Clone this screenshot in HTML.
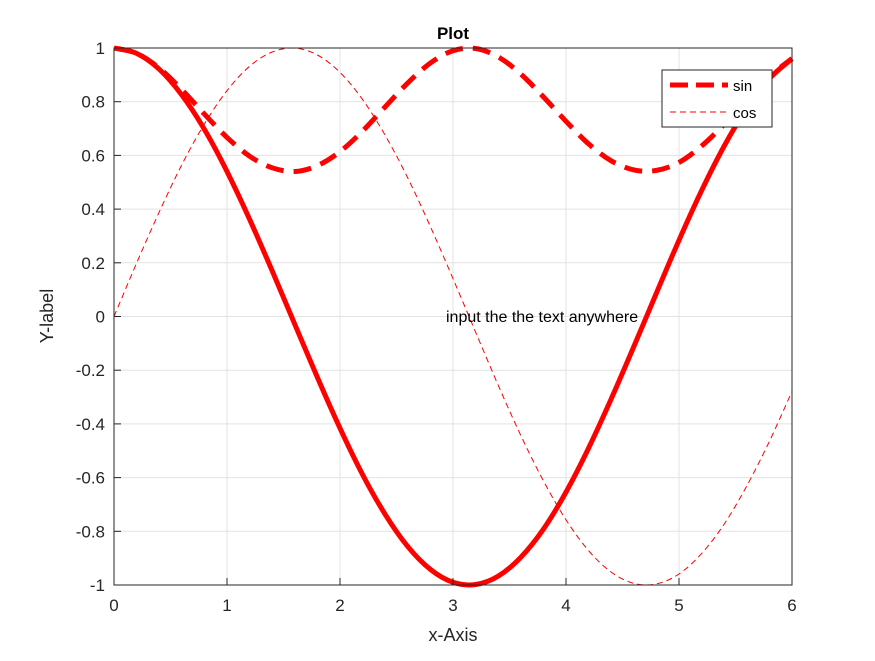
<!DOCTYPE html>
<html><head><meta charset="utf-8"><style>
body{margin:0;background:#fff;}
svg{font-family:"Liberation Sans",Arial,sans-serif;}
</style></head><body>
<svg id="chart" width="875" height="656" xmlns="http://www.w3.org/2000/svg">
<rect width="875" height="656" fill="#fff"/>
<g id="grid"></g>
<g id="series"></g>
<rect x="114" y="48" width="678" height="537" fill="none" stroke="#262626" stroke-width="1"/>
<g id="ticks"></g>
<text x="453" y="39" text-anchor="middle" font-size="17" font-weight="bold">Plot</text>
<text x="453" y="641" text-anchor="middle" font-size="18" fill="#262626">x-Axis</text>
<text transform="translate(53,316) rotate(-90)" text-anchor="middle" font-size="18" fill="#262626">Y-label</text>
<text x="446" y="322" font-size="16">input the the text anywhere</text>
<g>
<rect x="662" y="70" width="110" height="57" fill="#fff" stroke="#262626" stroke-width="1"/>
<line x1="670" y1="85" x2="728" y2="85" stroke="#f00" stroke-width="5" stroke-dasharray="18,8"/>
<text x="733" y="91" font-size="15">sin</text>
<line x1="670" y1="112" x2="728" y2="112" stroke="#f00" stroke-width="1" stroke-dasharray="6,4"/>
<text x="733" y="118" font-size="15">cos</text>
</g>
</svg>
<script>
const xValues=[0,0.2,0.4,0.6,0.8,1,1.2,1.4,1.6,1.8,2,2.2,2.4,2.6,2.8,3,3.2,3.4,3.6,3.8,4,4.2,4.4,4.6,4.8,5,5.2,5.4,5.6,5.8,6];
const sinValues=[0,.199,.389,.565,.717,.841,.932,.985,.9996,.974,.909,.808,.675,.516,.335,.141,-.058,-.256,-.443,-.612,-.757,-.872,-.952,-.994,-.996,-.959,-.883,-.773,-.631,-.465,-.279];
const cosValues=[1,.980,.921,.825,.697,.540,.362,.170,-.029,-.227,-.416,-.589,-.737,-.857,-.942,-.990,-.998,-.967,-.897,-.792,-.654,-.490,-.307,-.112,.087,.284,.469,.635,.776,.886,.960];
const cosSinValues=[1,.980,.925,.845,.754,.667,.597,.554,.540,.562,.614,.691,.781,.870,.944,.990,.998,.967,.903,.818,.727,.643,.580,.546,.544,.574,.635,.716,.807,.894,.961];
const xTicks=[0,1,2,3,4,5,6];
const yTicks=[-1,-0.8,-0.6,-0.4,-0.2,0,0.2,0.4,0.6,0.8,1];
const yTickLabels=["-1","-0.8","-0.6","-0.4","-0.2","0","0.2","0.4","0.6","0.8","1"];
const NS="http://www.w3.org/2000/svg";
const X=v=>114+v/6*678, Y=v=>316.5-v*268.5;
const grid=document.getElementById('grid'),ticks=document.getElementById('ticks'),ser=document.getElementById('series');
function mk(tag,attrs,parent){const e=document.createElementNS(NS,tag);for(const k in attrs)e.setAttribute(k,attrs[k]);parent.appendChild(e);return e;}
xTicks.forEach(t=>{
 const g=mk('line',{x1:X(t),x2:X(t),y1:48,y2:585,stroke:'#e3e3e3'},grid);
 
 
 const tm=mk('line',{x1:X(t),x2:X(t),y1:585,y2:578,stroke:'#262626'},ticks);
 
 
 const tl=mk('text',{x:X(t),y:611,'text-anchor':'middle','font-size':17,fill:'#262626'},ticks);
 tl.textContent=String(t);
 
 
});
yTicks.forEach((t,i)=>{
 const g=mk('line',{x1:114,x2:792,y1:Y(t),y2:Y(t),stroke:'#e3e3e3'},grid);
 
 
 const tm=mk('line',{x1:114,x2:121,y1:Y(t),y2:Y(t),stroke:'#262626'},ticks);
 
 
 const tl=mk('text',{x:105,y:Y(t)+6,'text-anchor':'end','font-size':17,fill:'#262626'},ticks);
 tl.textContent=yTickLabels[i];
 
 
});
function path(vals){
 const p=vals.map((v,i)=>[X(xValues[i]),Y(v)]);
 let d='M'+p[0][0].toFixed(1)+','+p[0][1].toFixed(1);
 for(let i=0;i<p.length-1;i++){
  const p0=p[Math.max(0,i-1)],p1=p[i],p2=p[i+1],p3=p[Math.min(p.length-1,i+2)];
  const c1=[p1[0]+(p2[0]-p0[0])/6,p1[1]+(p2[1]-p0[1])/6];
  const c2=[p2[0]-(p3[0]-p1[0])/6,p2[1]-(p3[1]-p1[1])/6];
  d+=' C'+c1.map(n=>n.toFixed(1)).join(',')+' '+c2.map(n=>n.toFixed(1)).join(',')+' '+p2.map(n=>n.toFixed(1)).join(',');
 }
 return d;
}
const p1=mk('path',{d:path(cosValues),fill:'none',stroke:'#f00','stroke-width':5,'stroke-linejoin':'round'},ser);


const p2=mk('path',{d:path(sinValues),fill:'none',stroke:'#f00','stroke-width':1,'stroke-dasharray':'6,4'},ser);


const p3=mk('path',{d:path(cosSinValues),fill:'none',stroke:'#f00','stroke-width':5,'stroke-dasharray':'18,10'},ser);


</script>
</body></html>
